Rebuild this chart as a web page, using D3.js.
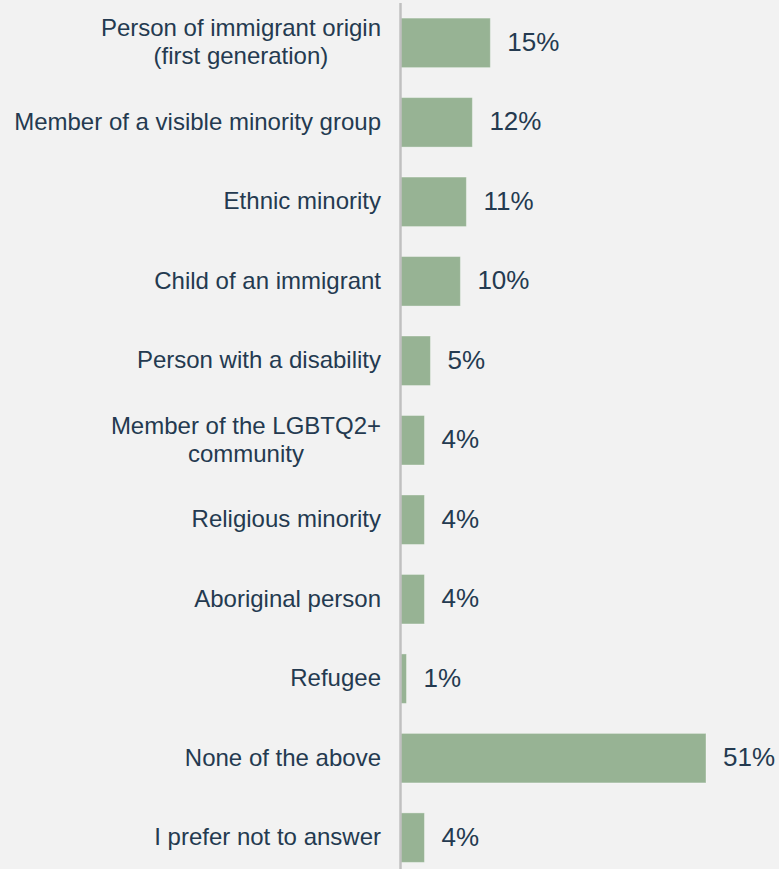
<!DOCTYPE html>
<html>
<head>
<meta charset="utf-8">
<script src="https://cdn.jsdelivr.net/npm/d3@7"></script>
<style>
  html, body { margin: 0; padding: 0; background: #f2f2f2; }
  svg { display: block; }
</style>
</head>
<body>
<svg id="chart" width="779" height="869"></svg>
<script>
// Categories (line breaks mark wrapped labels) and their shares in percent
const categories = [
  "Person of immigrant origin\n(first generation)",
  "Member of a visible minority group",
  "Ethnic minority",
  "Child of an immigrant",
  "Person with a disability",
  "Member of the LGBTQ2+\ncommunity",
  "Religious minority",
  "Aboriginal person",
  "Refugee",
  "None of the above",
  "I prefer not to answer"
];
const shares = [15, 12, 11, 10, 5, 4, 4, 4, 1, 51, 4];
const valueLabels = ["15%", "12%", "11%", "10%", "5%", "4%", "4%", "4%", "1%", "51%", "4%"];

const W = 779, H = 869;
const barColor = "#97b394";
const textColor = "#243a50";
const axisColor = "#c0c0c0";
const fontFamily = "'Liberation Sans', Arial, sans-serif";

const svg = d3.select("#chart");
svg.append("rect").attr("width", W).attr("height", H).attr("fill", "#f2f2f2");

const x = d3.scaleLinear().domain([0, 51]).range([400.5, 706]);
const y = d3.scaleBand()
  .domain(categories)
  .range([3, 877.5])
  .paddingInner(0.377)
  .paddingOuter(0.19);

const rows = categories.map((c, i) => ({ cat: c, value: shares[i], label: valueLabels[i] }));

// Bars
svg.append("g").selectAll("rect")
  .data(rows)
  .join("rect")
  .attr("x", x(0))
  .attr("y", d => y(d.cat))
  .attr("width", d => x(d.value) - x(0))
  .attr("height", y.bandwidth())
  .attr("fill", barColor)
  .attr("stroke", "rgba(255,255,255,0.35)")
  .attr("stroke-width", 1);

// Vertical baseline
svg.append("line")
  .attr("x1", x(0)).attr("x2", x(0))
  .attr("y1", 3).attr("y2", H)
  .attr("stroke", axisColor)
  .attr("stroke-width", 2.5);

// Value labels
svg.append("g").selectAll("text")
  .data(rows)
  .join("text")
  .attr("x", d => x(d.value) + 17)
  .attr("y", d => y(d.cat) + y.bandwidth() / 2 - 1)
  .attr("dy", "0.35em")
  .attr("font-family", fontFamily)
  .attr("font-size", 26)
  .attr("fill", textColor)
  .text(d => d.label);

// Category labels: block right-aligned, wrapped lines centred within it
const labelRight = 381;
const lineH = 28;
const catG = svg.append("g");
rows.forEach(d => {
  const lines = d.cat.split("\n");
  const t = catG.append("text")
    .attr("font-family", fontFamily)
    .attr("font-size", 24)
    .attr("fill", textColor);
  const cy = y(d.cat) + y.bandwidth() / 2 - 1;
  const spans = lines.map((ln, j) => t.append("tspan")
    .attr("y", cy + (j - (lines.length - 1) / 2) * lineH)
    .attr("dy", "0.35em")
    .text(ln));
  const widths = spans.map(s => s.node().getComputedTextLength());
  const maxW = d3.max(widths);
  if (lines.length === 1) {
    spans[0].attr("x", labelRight).attr("text-anchor", "end");
  } else {
    spans.forEach(s => s.attr("x", labelRight - maxW / 2).attr("text-anchor", "middle"));
  }
});
</script>
</body>
</html>
